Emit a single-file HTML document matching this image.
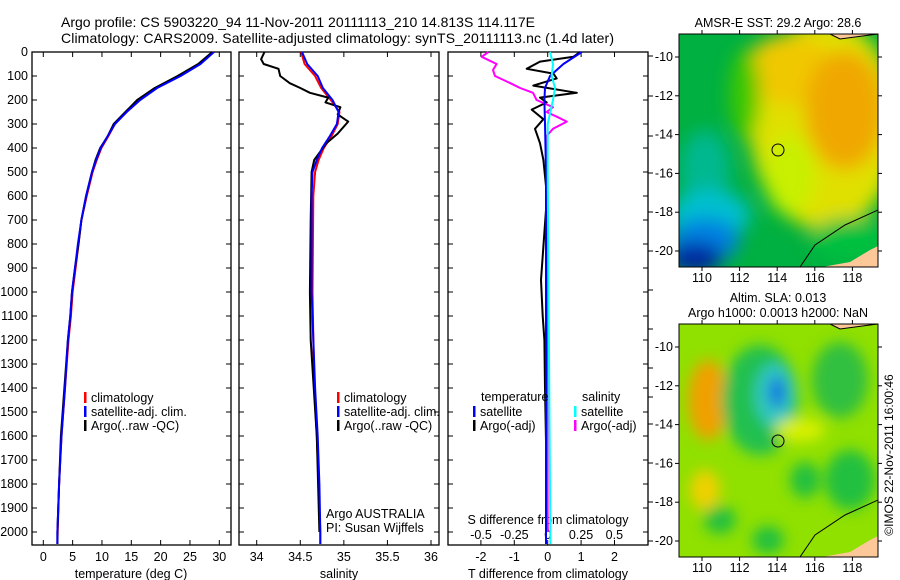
<!DOCTYPE html>
<html><head><meta charset="utf-8"><style>
body{margin:0;background:#fff;width:900px;height:580px;overflow:hidden}
svg{display:block;font-family:"Liberation Sans",sans-serif}
</style></head><body>
<svg id="fig" width="900" height="580" viewBox="0 0 900 580">
<defs>
<filter id="bl" x="-20%" y="-20%" width="140%" height="140%"><feGaussianBlur stdDeviation="9"/></filter>
<filter id="bl2" x="-20%" y="-20%" width="140%" height="140%"><feGaussianBlur stdDeviation="7"/></filter>
<clipPath id="c1"><rect x="679" y="34" width="199" height="233"/></clipPath>
<clipPath id="c2"><rect x="679" y="324" width="199" height="233"/></clipPath>
</defs>
<text x="61" y="27" font-size="14" textLength="474">Argo profile: CS 5903220_94 11-Nov-2011 20111113_210 14.813S 114.117E</text>
<text x="61" y="43" font-size="14" textLength="553">Climatology: CARS2009. Satellite-adjusted climatology: synTS_20111113.nc (1.4d later)</text>

<!-- maps -->
<g clip-path="url(#c1)">
<rect x="679" y="34" width="199" height="233" fill="#00b040"/>
<g filter="url(#bl)">
<ellipse cx="825" cy="125" rx="75" ry="105" fill="#e0e000"/>
<ellipse cx="790" cy="70" rx="45" ry="35" fill="#f0c800"/>
<ellipse cx="845" cy="110" rx="40" ry="60" fill="#f0a800"/>
<ellipse cx="790" cy="175" rx="25" ry="40" fill="#c8f000"/>
<ellipse cx="745" cy="95" rx="15" ry="45" fill="#40c800"/>
<ellipse cx="705" cy="170" rx="25" ry="40" fill="#00b890"/>
<ellipse cx="710" cy="215" rx="40" ry="25" fill="#00c0d0"/>
<ellipse cx="705" cy="240" rx="35" ry="22" fill="#0080e0"/>
<ellipse cx="695" cy="258" rx="28" ry="15" fill="#0020a0"/>
<ellipse cx="850" cy="240" rx="40" ry="22" fill="#00c040"/>
</g>
<path d="M800,267 L815,245 L845,225 L878,210 L878,267 Z" fill="none" stroke="#000" stroke-width="1"/>
<path d="M822,267 L850,262 L870,250 L878,246 L878,267 Z" fill="#fcc898"/>
<path d="M830,34 L840,39 L870,35 L878,34 Z" fill="#fcc898" stroke="#000"/>
<circle cx="778" cy="150" r="6" fill="none" stroke="#000"/>
</g>
<rect x="679" y="34" width="199" height="233" fill="none" stroke="#000"/>
<g clip-path="url(#c2)">
<rect x="679" y="324" width="199" height="233" fill="#90e000"/>
<g filter="url(#bl2)">
<ellipse cx="708" cy="400" rx="20" ry="40" fill="#f0a000"/>
<ellipse cx="705" cy="490" rx="15" ry="20" fill="#f0d000"/>
<ellipse cx="760" cy="400" rx="38" ry="55" fill="#20c050"/>
<ellipse cx="775" cy="395" rx="20" ry="32" fill="#30c8c0"/>
<ellipse cx="777" cy="392" rx="8" ry="16" fill="#1070e0"/>
<ellipse cx="840" cy="380" rx="28" ry="38" fill="#30c040"/>
<ellipse cx="850" cy="480" rx="25" ry="30" fill="#20c040"/>
<ellipse cx="805" cy="480" rx="15" ry="18" fill="#20c040"/>
<ellipse cx="720" cy="520" rx="16" ry="14" fill="#20c040"/>
<ellipse cx="768" cy="540" rx="16" ry="14" fill="#20c040"/>
<ellipse cx="800" cy="430" rx="25" ry="12" fill="#d8f000"/>
</g>
<path d="M800,557 L815,535 L845,515 L878,500 L878,557 Z" fill="none" stroke="#000"/>
<path d="M822,557 L850,552 L870,540 L878,536 L878,557 Z" fill="#fcc898"/>
<path d="M830,324 L840,329 L870,325 L878,324 Z" fill="#fcc898" stroke="#000"/>
<circle cx="778" cy="441" r="6" fill="none" stroke="#000"/>
</g>
<rect x="679" y="324" width="199" height="233" fill="none" stroke="#000"/>
<text x="778" y="27" font-size="12.5" text-anchor="middle">AMSR-E SST: 29.2 Argo: 28.6</text>
<text x="778" y="302" font-size="12.5" text-anchor="middle">Altim. SLA: 0.013</text>
<text x="778" y="317" font-size="12.5" text-anchor="middle">Argo h1000: 0.0013 h2000: NaN</text>
<text transform="translate(893,455) rotate(-90)" font-size="12" text-anchor="middle">©IMOS 22-Nov-2011 16:00:46</text>
<g id="plots"></g>
</svg>
<script>
// depth axis
const depthTicks=[0,100,200,300,400,500,600,700,800,900,1000,1100,1200,1300,1400,1500,1600,1700,1800,1900,2000];
// temperature panel
const tempTicks=[0,5,10,15,20,25,30];
const tDepth=[0,50,100,150,200,250,300,350,400,450,500,600,700,800,900,1000,1100,1200,1400,1600,1800,2000,2050];
const tClim=[28.9,26.7,23.3,19.3,16.5,14.2,12.2,11.1,9.9,9.1,8.4,7.4,6.5,6.0,5.5,5.0,4.7,4.3,3.7,3.1,2.7,2.45,2.4];
const tSat=[29.1,26.8,23.4,19.4,16.5,14.2,12.2,11.0,9.8,9.0,8.3,7.3,6.5,5.9,5.4,4.9,4.6,4.2,3.7,3.1,2.7,2.4,2.4];
const tArgo=[28.8,26.4,22.9,19.0,16.0,14.0,12.0,11.0,9.7,8.9,8.3,7.3,6.5,6.0,5.4,4.9,4.6,4.2,3.6,3.0,2.7,2.4,2.4];
// salinity panel
const salTicks=[34,34.5,35,35.5,36];
const sDepth=[0,50,100,150,200,250,300,350,400,450,500,600,1000,1400,1600,1800,2000,2050];
const sClim=[34.51,34.55,34.67,34.74,34.85,34.95,34.93,34.86,34.77,34.71,34.67,34.65,34.64,34.66,34.69,34.71,34.73,34.73];
const sSat=[34.52,34.58,34.70,34.76,34.87,34.94,34.92,34.84,34.75,34.69,34.64,34.63,34.63,34.67,34.70,34.72,34.73,34.73];
const aDepth=[0,30,50,70,100,130,150,170,190,210,230,260,290,340,380,450,500,700,1000,1200,1600,2000];
const sArgo=[34.09,34.05,34.08,34.25,34.27,34.38,34.50,34.61,34.82,34.79,34.96,34.93,35.05,34.93,34.80,34.66,34.63,34.62,34.61,34.62,34.69,34.72];
// difference panel
const dTTicks=[-2,-1,0,1,2];
const dSTicks=[-0.5,-0.25,0,0.25,0.5];
const dDepth=[0,20,40,70,90,110,140,170,190,210,240,280,320,380,450,600,950,1100,1200,1400,2000];
const dTArgo=[0.97,0.77,-0.23,-0.63,0.17,0.27,-0.43,0.87,-0.23,-0.03,-0.48,-0.13,-0.38,-0.23,-0.13,-0.02,-0.2,-0.15,-0.1,-0.08,0];
const mDepth=[0,20,50,75,100,130,150,170,200,230,250,270,290,320,350,400,600,1000,2000];
const dSArgo=[-0.445,-0.495,-0.383,-0.41,-0.395,-0.28,-0.207,-0.11,-0.083,0.04,-0.008,0.07,0.143,0.04,-0.008,-0.01,-0.01,-0.005,0];
const bDepth=[0,50,100,150,200,300,500,2050];
const dTSat=[1.02,0.47,0.07,-0.08,-0.1,-0.08,-0.05,-0.05];
const dSSat=[0.017,0.04,0.03,0.055,0.04,0,0,0.02];

const NS='http://www.w3.org/2000/svg';
const root=document.getElementById('plots');
function el(tag,a,parent){const e=document.createElementNS(NS,tag);for(const k in a)e.setAttribute(k,a[k]);(parent||root).appendChild(e);return e;}
const Y=d=>52+d*0.24;
const PT=545;
function lin(d0,d1,p0,p1){return v=>p0+(v-d0)*(p1-p0)/(d1-d0);}
const xT=lin(0,30,43.3,219.3), xS=lin(34,36,256.7,431), xDT=lin(0,1,547.7,581.1), xDS=lin(0,1,547.7,681);

function panel(x0,x1,name){
  const g=el('g',{});
  
  
  const r=el('rect',{x:x0,y:52,width:x1-x0,height:PT-52,fill:'none',stroke:'#000','stroke-width':1.3},g);
  
  
  depthTicks.forEach(d=>{
    el('line',{x1:x0,x2:x0+5,y1:Y(d),y2:Y(d),stroke:'#000'},g);
    el('line',{x1:x1-5,x2:x1,y1:Y(d),y2:Y(d),stroke:'#000'},g);
  });
  return g;
}
function xticks(g,ticks,sc,labels,ly){
  ticks.forEach((t,i)=>{
    el('line',{x1:sc(t),x2:sc(t),y1:PT,y2:PT-5,stroke:'#000'},g);
    el('line',{x1:sc(t),x2:sc(t),y1:52,y2:57,stroke:'#000'},g);
    if(labels){const tx=el('text',{x:sc(t),y:ly,'font-size':12.5,'text-anchor':'middle'},g);tx.textContent=labels[i];
      
      }
  });
}
function line(g,ys,xs,sc,col,w,name){
  const pts=ys.map((d,i)=>sc(xs[i]).toFixed(1)+','+Y(d).toFixed(1)).join(' ');
  const p=el('polyline',{points:pts,fill:'none',stroke:col,'stroke-width':w,'stroke-linejoin':'round'},g);
  
  
}
function txt(g,x,y,s,name,anchor){const t=el('text',{x:x,y:y,'font-size':12.5,'text-anchor':anchor||'start'},g);t.textContent=s;
  
  return t;}
function legend(g,x,y,items){
  items.forEach((it,i)=>{
    const b=el('rect',{x:x,y:y+i*14-6,width:2.5,height:11,fill:it[0]},g);
    
    
    txt(g,x+7,y+i*14+4,it[1],'legend-entry');
  });
}

// depth labels
const dl=el('g',{});


depthTicks.forEach(d=>txt(dl,28,Y(d)+4,String(d),'y-tick-label','end'));

// panel 1
const g1=panel(32,231,'temperature-panel');
xticks(g1,tempTicks,xT,tempTicks.map(String),561);
line(g1,tDepth,tClim,xT,'#f00',2,'temperature-climatology-line');
line(g1,tDepth,tArgo,xT,'#000',2,'temperature-argo-line');
line(g1,tDepth,tSat,xT,'#00f',2,'temperature-satellite-line');
txt(g1,131,578,'temperature (deg C)','temperature-axis-title','middle');
legend(g1,84,398,[['#f00','climatology'],['#00f','satellite-adj. clim.'],['#000','Argo(..raw -QC)']]);

// panel 2
const g2=panel(239,439,'salinity-panel');
xticks(g2,salTicks,xS,salTicks.map(String),561);
line(g2,sDepth,sClim,xS,'#f00',2,'salinity-climatology-line');
line(g2,aDepth,sArgo,xS,'#000',2,'salinity-argo-line');
line(g2,sDepth,sSat,xS,'#00f',2,'salinity-satellite-line');
txt(g2,339,578,'salinity','salinity-axis-title','middle');
legend(g2,337,398,[['#f00','climatology'],['#00f','satellite-adj. clim.'],['#000','Argo(..raw -QC)']]);
txt(g2,326,518,'Argo AUSTRALIA','float-operator-label');
txt(g2,326,532,'PI: Susan Wijffels','float-pi-label');

// panel 3
const g3=panel(448,648,'difference-panel');
xticks(g3,dTTicks,xDT,dTTicks.map(String),561);
dSTicks.forEach((t,i)=>{txt(g3,xDS(t),539,['-0.5','-0.25','0','0.25','0.5'][i],'s-tick-label','middle');});
txt(g3,548,524,'S difference from climatology','s-diff-axis-title','middle');
txt(g3,548,578,'T difference from climatology','t-diff-axis-title','middle');
line(g3,dDepth,dTArgo,xDT,'#000',2,'t-diff-argo-line');
line(g3,mDepth,dSArgo,xDS,'#f0f',2,'s-diff-argo-line');
line(g3,bDepth,dTSat,xDT,'#00f',2,'t-diff-satellite-line');
line(g3,bDepth,dSSat,xDS,'#0ff',2,'s-diff-satellite-line');
txt(g3,481,401,'temperature','legend-title-temperature');
txt(g3,582,401,'salinity','legend-title-salinity');
legend(g3,473,412,[['#00f','satellite'],['#000','Argo(-adj)']]);
legend(g3,574,412,[['#0ff','satellite'],['#f0f','Argo(-adj)']]);
[56,96,136,173,212,251,290,329,368,397,424,463,502,541].forEach(y=>el('line',{x1:648,x2:653,y1:y,y2:y,stroke:'#000'},g3));

// map axes
function mapAxes(top,bottom,latBase,name){
  const g=el('g',{});
  
  
  [110,112,114,116,118].forEach(lon=>{
    const x=702+(lon-110)*18.8;
    el('line',{x1:x,x2:x,y1:top,y2:top-4,stroke:'#000'},g);
    el('line',{x1:x,x2:x,y1:bottom,y2:bottom+4,stroke:'#000'},g);
    txt(g,x,bottom+15,String(lon),'lon-tick-label','middle');
  });
  [-10,-12,-14,-16,-18,-20].forEach(lat=>{
    const y=latBase+(-10-lat)*19.4;
    el('line',{x1:679,x2:675,y1:y,y2:y,stroke:'#000'},g);
    el('line',{x1:878,x2:882,y1:y,y2:y,stroke:'#000'},g);
    txt(g,673,y+4,String(lat),'lat-tick-label','end');
  });
}
mapAxes(34,267,57,'sst-map-axes');
mapAxes(324,557,347,'sla-map-axes');
</script>
</body></html>
